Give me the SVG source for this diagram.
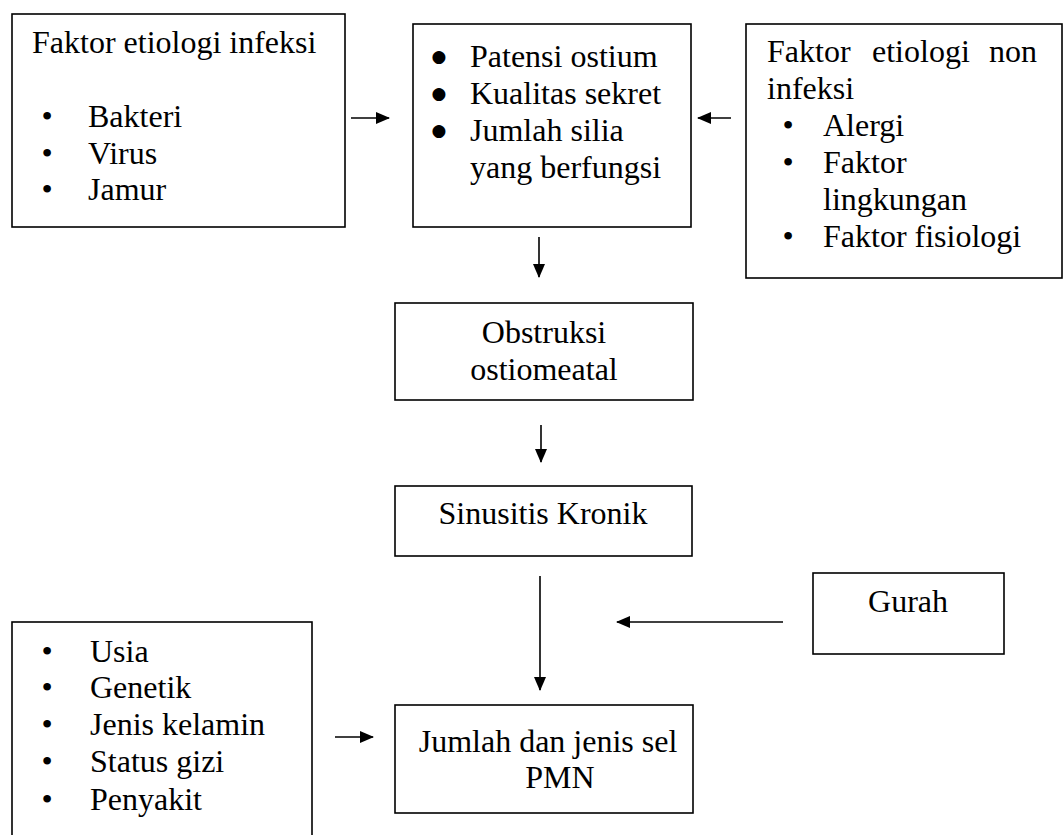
<svg xmlns="http://www.w3.org/2000/svg" width="1063" height="835" viewBox="0 0 1063 835">
<style>
.box{fill:#fff;stroke:#000;stroke-width:1.6}
text{font-family:"Liberation Serif","Times New Roman","DejaVu Serif",serif;fill:#000}
.t{font-size:32px}
.c{text-anchor:middle}
.b{font-size:32px;text-anchor:middle}
.bb{font-size:17px;text-anchor:middle;font-family:"DejaVu Sans",sans-serif}
.ln{stroke:#000;stroke-width:1.6;fill:none}
</style>
<defs>
<marker id="ah" markerWidth="14" markerHeight="12" refX="13" refY="6" orient="auto" markerUnits="userSpaceOnUse">
<path d="M0,0 L14,6 L0,12 Z" fill="#000"/>
</marker>
</defs>
<rect width="1063" height="835" fill="#fff"/>
<g id="infeksi">
<rect class="box" x="12" y="14" width="333" height="213"/>
<text class="t" x="32" y="53" font-family="Liberation Serif">Faktor etiologi infeksi</text>
<text class="b" x="47" y="127">•</text><text class="t" x="88" y="127">Bakteri</text>
<text class="b" x="47" y="164">•</text><text class="t" x="88" y="164">Virus</text>
<text class="b" x="47" y="200">•</text><text class="t" x="88" y="200">Jamur</text>
</g>
<g id="faktor-silia">
<rect class="box" x="413" y="24" width="278" height="203"/>
<text class="bb" x="439" y="62">●</text><text class="t" x="470" y="67">Patensi ostium</text>
<text class="bb" x="439" y="99">●</text><text class="t" x="470" y="104">Kualitas sekret</text>
<text class="bb" x="439" y="136">●</text><text class="t" x="470" y="141">Jumlah silia</text>
<text class="t" x="470" y="178">yang berfungsi</text>
</g>
<g id="non-infeksi">
<rect class="box" x="746" y="24" width="316" height="254"/>
<text class="t" x="767" y="62">Faktor</text>
<text class="t" x="872" y="62">etiologi</text>
<text class="t" x="1037" y="62" text-anchor="end">non</text>
<text class="t" x="767" y="99">infeksi</text>
<text class="b" x="788" y="136">•</text><text class="t" x="823" y="136">Alergi</text>
<text class="b" x="788" y="173">•</text><text class="t" x="823" y="173">Faktor</text>
<text class="t" x="823" y="210">lingkungan</text>
<text class="b" x="788" y="247">•</text><text class="t" x="823" y="247">Faktor fisiologi</text>
</g>
<g id="obstruksi">
<rect class="box" x="395" y="303" width="298" height="97"/>
<text class="t c" x="544" y="343">Obstruksi</text>
<text class="t c" x="544" y="380">ostiomeatal</text>
</g>
<g id="sinusitis">
<rect class="box" x="395" y="486" width="297" height="70"/>
<text class="t c" x="543" y="524">Sinusitis Kronik</text>
</g>
<g id="gurah">
<rect class="box" x="813" y="573" width="191" height="81"/>
<text class="t c" x="908" y="612">Gurah</text>
</g>
<g id="faktor-host">
<rect class="box" x="12" y="622" width="300" height="230"/>
<text class="b" x="47" y="662">•</text><text class="t" x="90" y="662">Usia</text>
<text class="b" x="47" y="698">•</text><text class="t" x="90" y="698">Genetik</text>
<text class="b" x="47" y="735">•</text><text class="t" x="90" y="735">Jenis kelamin</text>
<text class="b" x="47" y="772">•</text><text class="t" x="90" y="772">Status gizi</text>
<text class="b" x="47" y="810">•</text><text class="t" x="90" y="810">Penyakit</text>
</g>
<g id="pmn">
<rect class="box" x="395" y="705" width="298" height="108"/>
<text class="t c" x="548" y="752">Jumlah dan jenis sel</text>
<text class="t c" x="560" y="788">PMN</text>
</g>
<g id="connectors">
<line class="ln" x1="351" y1="118" x2="389" y2="118" marker-end="url(#ah)"/>
<line class="ln" x1="731" y1="118" x2="698" y2="118" marker-end="url(#ah)"/>
<line class="ln" x1="539" y1="237" x2="539" y2="277" marker-end="url(#ah)"/>
<line class="ln" x1="541" y1="425" x2="541" y2="462" marker-end="url(#ah)"/>
<line class="ln" x1="540" y1="576" x2="540" y2="690" marker-end="url(#ah)"/>
<line class="ln" x1="783" y1="622" x2="617" y2="622" marker-end="url(#ah)"/>
<line class="ln" x1="335" y1="737" x2="373" y2="737" marker-end="url(#ah)"/>
</g>
</svg>
